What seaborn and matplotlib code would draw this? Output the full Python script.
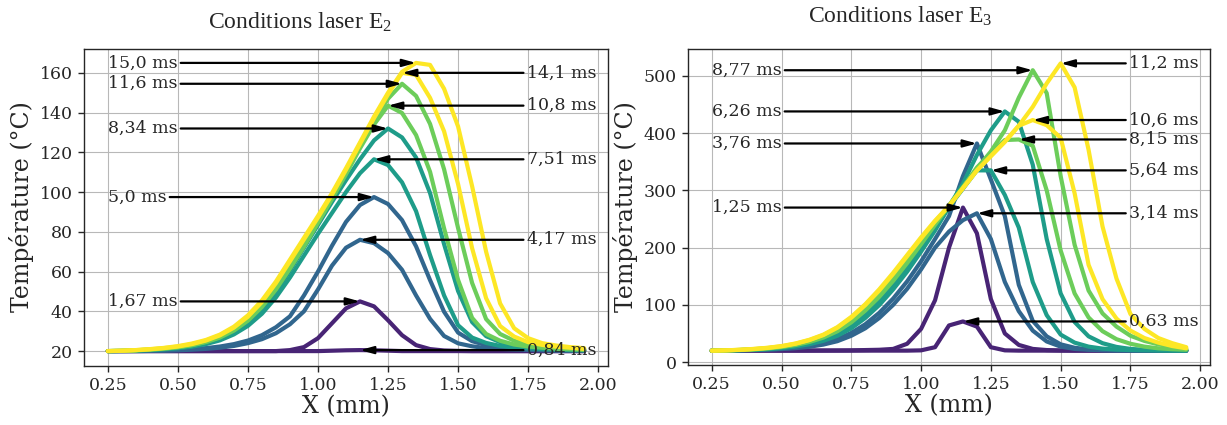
import numpy as np
import pandas as pd

import matplotlib
matplotlib.use("Agg")
import matplotlib.pyplot as plt
import seaborn as sns

# ============================================================
# DATA  (temperature profiles)
# ============================================================
X_MM = [0.25, 0.30, 0.35, 0.40, 0.45, 0.50, 0.55, 0.60, 0.65, 0.70,
        0.75, 0.80, 0.85, 0.90, 0.95, 1.00, 1.05, 1.10, 1.15, 1.20,
        1.25, 1.30, 1.35, 1.40, 1.45, 1.50, 1.55, 1.60, 1.65, 1.70,
        1.75, 1.80, 1.85, 1.90, 1.95]

# --- laser conditions E2 ---
E2_LABELS = ["0,84 ms", "1,67 ms", "4,17 ms", "5,0 ms", "7,51 ms",
             "8,34 ms", "10,8 ms", "11,6 ms", "14,1 ms", "15,0 ms"]

e2_084 = [20, 20, 20, 20, 20, 20, 20, 20, 20, 20, 20, 20, 20, 20, 20, 20,
          20.2, 20.4, 20.5, 20.4, 20.2,
          20, 20, 20, 20, 20, 20, 20, 20, 20, 20, 20, 20, 20, 20]
e2_167 = [20, 20, 20, 20, 20, 20, 20, 20, 20, 20, 20, 20, 20,
          20.5, 22, 26.5, 34, 41.5, 45, 42.5, 35.5, 28, 23, 21, 20.3, 20.1,
          20, 20, 20, 20, 20, 20, 20, 20, 20]
e2_417 = [20, 20, 20, 20.1, 20.2, 20.4, 20.7, 21.1, 21.7, 22.6, 24, 26, 29,
          33.5, 40, 51, 63, 72, 76, 74.3, 69.3, 60.9, 48, 36.2, 27.6, 23.9,
          22.4, 21.5, 21.1, 20.8, 20.6, 20.4, 20.3, 20.2, 20.2]
e2_500 = [20, 20, 20.1, 20.2, 20.4, 20.6, 21, 21.5, 22.3, 23.5, 25.3, 28, 32,
          37.5, 48, 60, 73, 85, 93.5, 97.5, 94, 85.9, 72.7, 55.7, 39.8, 29.3,
          25, 23, 21.9, 21.4, 21, 20.7, 20.5, 20.4, 20.3]
e2_751 = [20, 20.1, 20.3, 20.5, 20.9, 21.4, 22.2, 23.5, 25.4, 28.4, 32.7, 38.8,
          47, 57, 68, 79, 89.5, 100, 109.5, 116.5, 113.6, 104.9, 90.4, 68.3,
          48, 33, 26.8, 24.1, 22.6, 21.8, 21.4, 21, 20.7, 20.5, 20.4]
e2_834 = [20, 20.1, 20.3, 20.6, 21, 21.6, 22.5, 23.9, 26, 29.3, 34, 40.5, 49.5,
          60.5, 72, 83.5, 95, 106, 116.5, 126, 132, 127.5, 117.4, 99.5, 73.8,
          50.2, 34.6, 27.5, 24.5, 22.9, 22, 21.5, 21.1, 20.8, 20.6]
e2_108 = [20, 20.1, 20.4, 20.7, 21.2, 21.9, 22.9, 24.5, 26.8, 30.3, 35.3, 42.2,
          51, 61.5, 72.5, 84.5, 96.5, 109, 122, 134, 143.5, 139.8, 128.7, 110.2,
          81.8, 55.8, 36.7, 28.6, 25.2, 23.3, 22.3, 21.7, 21.2, 20.9, 20.6]
e2_116 = [20, 20.1, 20.4, 20.8, 21.3, 22, 23.1, 24.7, 27.1, 30.7, 35.8, 42.8,
          51.8, 62.3, 73.5, 85.5, 97.5, 110.5, 123.5, 136, 147, 154.5, 148.4,
          134.3, 111.5, 81.9, 54.3, 36.1, 28.6, 25.2, 23.4, 22.4, 21.7, 21.3, 20.9]
e2_141 = [20, 20.2, 20.5, 20.9, 21.5, 22.3, 23.5, 25.3, 27.9, 31.8, 37.3, 44.7,
          54.2, 65.2, 76.2, 87.2, 98.7, 111.2, 124.2, 137.2, 149.2, 160, 159,
          147.4, 130.6, 104, 71.8, 46.6, 32.6, 27.3, 24.5, 23.1, 22.2, 21.7, 21.1]
e2_150 = [20, 20.2, 20.5, 21, 21.6, 22.5, 23.8, 25.6, 28.3, 32.3, 38, 45.5, 55,
          66, 77, 88, 99.5, 112, 125, 138, 150, 160.5, 165, 164, 152, 133, 103,
          70, 44, 31.5, 26.5, 24, 22.8, 22, 21.5]

# annotation targets (peak position / temperature) and side of the label
E2_PEAK_X = [1.15, 1.15, 1.15, 1.20, 1.20, 1.25, 1.25, 1.30, 1.30, 1.35]
E2_PEAK_T = [20.5, 45, 76, 97.5, 116.5, 132, 143.5, 154.5, 160, 165]
E2_SIDE = ["right", "left", "right", "left", "right",
           "left", "right", "left", "right", "left"]

# --- laser conditions E3 ---
E3_LABELS = ["0,63 ms", "1,25 ms", "3,14 ms", "3,76 ms", "5,64 ms",
             "6,26 ms", "8,15 ms", "8,77 ms", "10,6 ms", "11,2 ms"]

e3_063 = [20, 20, 20, 20, 20, 20, 20, 20, 20, 20, 20, 20, 20, 20, 20,
          20.5, 26, 64, 71, 62, 26, 20.5,
          20, 20, 20, 20, 20, 20, 20, 20, 20, 20, 20, 20, 20]
e3_125 = [20, 20, 20, 20, 20, 20, 20, 20.1, 20.2, 20.3, 20.5, 21, 21.5, 23, 32,
          58, 108, 200, 270, 225, 110, 50, 30, 23, 21, 20.3, 20, 20, 20, 20,
          20, 20, 20, 20, 20]
e3_314 = [20, 20.2, 20.5, 21, 21.7, 22.7, 24.3, 26.8, 30.6, 36.5, 46, 59, 77,
          100, 128, 162, 200, 228, 248, 260, 215, 140, 89, 55, 36, 27, 23, 21.5,
          20.8, 20.4, 20.2, 20.1, 20, 20, 20]
e3_376 = [20, 20.2, 20.6, 21.2, 22, 23.3, 25.3, 28.4, 33, 40, 51, 66, 86, 111,
          141, 176, 215, 255, 325, 382, 319, 255, 135, 72, 45, 31, 25, 22.3, 21,
          20.5, 20.3, 20.2, 20.1, 20, 20]
e3_564 = [20, 20.3, 20.8, 21.6, 22.7, 24.4, 27.1, 31.2, 37.2, 46, 59, 77, 99.5,
          127, 158, 193, 230, 271, 303, 335, 335, 292, 235, 140, 82, 48, 34, 27,
          23.5, 21.8, 21, 20.5, 20.3, 20.2, 20.1]
e3_626 = [20, 20.3, 20.9, 21.8, 23.1, 25.1, 28.2, 32.8, 39.5, 49, 63, 82, 105,
          133, 164, 198, 234, 272, 312, 362, 405, 438, 420, 345, 215, 120, 70,
          45, 33, 26.5, 23, 21.5, 20.8, 20.4, 20.2]
e3_815 = [20, 20.4, 21.1, 22.2, 23.8, 26.2, 29.8, 35.2, 42.8, 53.8, 69.5, 90,
          114, 142, 173, 206, 240, 273, 306, 340, 365, 388, 389, 378, 300, 195,
          120, 78, 54, 40, 32, 27, 24, 22.5, 21.5]
e3_877 = [20, 20.4, 21.2, 22.4, 24.2, 26.8, 30.8, 36.6, 44.8, 56.5, 73, 94, 119,
          148, 179, 211, 243, 274, 305, 338, 368, 405, 462, 510, 470, 325, 205,
          125, 85, 62, 46, 37, 31, 27, 23]
e3_106 = [20, 20.5, 21.4, 22.8, 24.7, 27.6, 32, 38.4, 47.2, 60, 77.5, 99.5, 125,
          154, 185, 216, 246, 273, 304, 335, 360, 385, 413, 423, 414, 392, 295,
          170, 110, 76, 55, 42, 34, 28, 24]
e3_112 = [20, 20.5, 21.5, 23, 25, 28, 32.5, 39, 48, 61, 79, 101, 127, 156, 187,
          218, 247, 273, 304, 335, 360, 385, 413, 446, 487, 522, 480, 371, 237,
          146, 84, 58, 42, 33, 26]

E3_PEAK_X = [1.15, 1.15, 1.20, 1.20, 1.25, 1.30, 1.35, 1.40, 1.40, 1.50]
E3_PEAK_T = [71, 270, 260, 382, 335, 438, 389, 510, 423, 522]
E3_SIDE = ["right", "left", "right", "left", "right",
           "left", "right", "left", "right", "right"]

# ============================================================
# STYLE
# ============================================================
sns.set_style("whitegrid", {"axes.edgecolor": "0.15", "grid.color": "0.72",
                            "xtick.bottom": True, "ytick.left": True})
plt.rcParams["font.family"] = ["DejaVu Serif"]
plt.rcParams["mathtext.default"] = "regular"

cmap = sns.color_palette("viridis", as_cmap=True)
group_cols = [cmap(v) for v in (0.1, 0.325, 0.55, 0.775, 1.0)]
LINE_W = 3.0
TXT_SIZE = 12.5


def make_frame(labels, curves):
    parts = []
    for lab, vals in zip(labels, curves):
        parts.append(pd.DataFrame({"x": X_MM, "T": vals, "label": lab}))
    return pd.concat(parts, ignore_index=True)


def draw_panel(ax, labels, curves, peak_x, peak_t, sides, yticks):
    df = make_frame(labels, curves)
    pal = {lab: group_cols[i // 2] for i, lab in enumerate(labels)}
    sns.lineplot(data=df, x="x", y="T", hue="label", hue_order=labels,
                 palette=pal, lw=LINE_W, legend=False, estimator=None,
                 sort=False, ax=ax)
    for lab, px, pt, side in zip(labels, peak_x, peak_t, sides):
        tx = 0.25 if side == "left" else 1.745
        ax.annotate(lab, xy=(px, pt), xytext=(tx, pt), ha="left", va="center",
                    fontsize=TXT_SIZE,
                    arrowprops=dict(arrowstyle="-|>,head_length=0.8,head_width=0.22",
                                    color="black", lw=1.6, mutation_scale=10,
                                    shrinkA=0, shrinkB=0))
    ax.set_xticks([0.25, 0.50, 0.75, 1.00, 1.25, 1.50, 1.75, 2.00])
    ax.set_yticks(yticks)
    ax.tick_params(labelsize=TXT_SIZE, length=4, width=1, color="0.15", pad=4)
    ax.set_xlabel("X (mm)", fontsize=17, labelpad=1)
    ax.set_ylabel("Température (°C)", fontsize=17, labelpad=4)
    for sp in ax.spines.values():
        sp.set_linewidth(1.0)


fig = plt.figure(figsize=(12.27, 4.25), dpi=100)
ax1 = fig.add_axes([84 / 1227, 59.5 / 425, 524 / 1227, 317 / 425])
ax2 = fig.add_axes([688 / 1227, 60 / 425, 522 / 1227, 316 / 425])

draw_panel(ax1, E2_LABELS,
           [e2_084, e2_167, e2_417, e2_500, e2_751,
            e2_834, e2_108, e2_116, e2_141, e2_150],
           E2_PEAK_X, E2_PEAK_T, E2_SIDE, [20, 40, 60, 80, 100, 120, 140, 160])
draw_panel(ax2, E3_LABELS,
           [e3_063, e3_125, e3_314, e3_376, e3_564,
            e3_626, e3_815, e3_877, e3_106, e3_112],
           E3_PEAK_X, E3_PEAK_T, E3_SIDE, [0, 100, 200, 300, 400, 500])

title_font = ["Liberation Serif", "DejaVu Serif"]
fig.text(300 / 1227, 1 - 22 / 425, "Conditions laser E$_2$", ha="center",
         va="center", fontsize=17, family=title_font)
fig.text(900 / 1227, 1 - 16 / 425, "Conditions laser E$_3$", ha="center",
         va="center", fontsize=17, family=title_font)

fig.savefig("out.png", dpi=100)
plt.close(fig)
